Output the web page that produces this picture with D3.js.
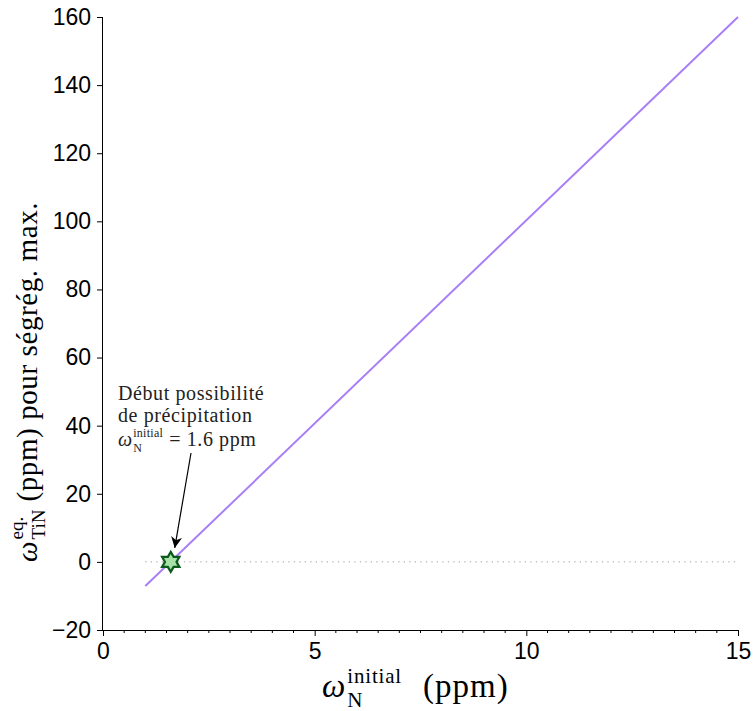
<!DOCTYPE html>
<html>
<head>
<meta charset="utf-8">
<script src="https://cdn.jsdelivr.net/npm/d3@7"></script>
<style>
  html, body { margin: 0; padding: 0; background: #fff; }
  svg { display: block; }
</style>
</head>
<body>
<svg id="chart" width="754" height="711"></svg>
<script>
// ---- data ----
const xTicks = [0, 5, 10, 15];
const xMinorTicks = d3.range(0, 15.001, 0.5);
const yTicks = [-20, 0, 20, 40, 60, 80, 100, 120, 140, 160];
const lineXs = [1, 15];          // ω_N initial (ppm)
const lineYs = [-7.1, 160];      // ω_TiN eq. (ppm)
const zeroXs = [1, 15];          // dotted reference at 0
const zeroYs = [0, 0];
const markerX = [1.6];
const markerY = [0];
const annotationLines = ["Début possibilité", "de précipitation"];
const annotationValue = "= 1.6 ppm";

const svg = d3.select("#chart");
const plot = {left: 103, right: 738, top: 17, bottom: 630};

const x = d3.scaleLinear().domain([0, 15]).range([plot.left, plot.right]);
const y = d3.scaleLinear().domain([-20, 160]).range([plot.bottom, plot.top]);

const sans = "'Liberation Sans', Arial, sans-serif";
const serif = "'Liberation Serif', 'Times New Roman', serif";

// ---- axes ----
const xAxis = d3.axisBottom(x).tickValues(xTicks).tickSize(6).tickPadding(7).tickFormat(d3.format("d"));
const gx = svg.append("g").attr("transform", `translate(0,${plot.bottom})`).call(xAxis);
// minor ticks
svg.append("g").attr("transform", `translate(0,${plot.bottom})`)
  .selectAll("line").data(xMinorTicks.filter(v => !xTicks.includes(v))).join("line")
  .attr("x1", d => x(d)).attr("x2", d => x(d)).attr("y1", 0).attr("y2", 3)
  .attr("stroke", "#000").attr("stroke-width", 1);

const yAxis = d3.axisLeft(y).tickValues(yTicks).tickSize(6).tickPadding(6)
  .tickFormat(d => d < 0 ? "\u2212" + Math.abs(d) : d);
const gy = svg.append("g").attr("transform", `translate(${plot.left},0)`).call(yAxis);

[gx, gy].forEach(g => {
  g.select(".domain").attr("stroke", "#000").attr("stroke-width", 1);
  g.selectAll(".tick line").attr("stroke", "#000");
  g.selectAll(".tick text").attr("fill", "#000").attr("font-family", sans).attr("font-size", 23);
});
gx.select(".domain").attr("d", `M${plot.left},0.5H${plot.right}`);
gy.select(".domain").attr("d", `M-0.5,${plot.top}V${plot.bottom}`);

// ---- dotted zero line ----
svg.append("path")
  .datum(d3.zip(zeroXs, zeroYs))
  .attr("d", d3.line().x(d => x(d[0])).y(d => y(d[1])))
  .attr("stroke", "#9a9a9a").attr("stroke-width", 1).attr("stroke-dasharray", "1.2,4.3")
  .attr("fill", "none");

// ---- main line ----
svg.append("path")
  .datum(d3.zip(lineXs, lineYs))
  .attr("d", d3.line().x(d => x(d[0])).y(d => y(d[1])))
  .attr("stroke", "#a97ff6").attr("stroke-width", 2).attr("fill", "none");

// ---- hexagram marker ----
function hexagram(r) {
  const pts = [];
  for (let i = 0; i < 12; i++) {
    const a = -Math.PI / 2 + i * Math.PI / 6;
    const rr = i % 2 === 0 ? r : r * 0.577;
    pts.push([rr * Math.cos(a), rr * Math.sin(a)]);
  }
  return "M" + pts.map(p => p.join(",")).join("L") + "Z";
}
svg.append("g").selectAll("path").data(d3.zip(markerX, markerY)).join("path")
  .attr("transform", d => `translate(${x(d[0])},${y(d[1])})`)
  .attr("d", hexagram(10))
  .attr("fill", "#a8e2a8").attr("stroke", "#0c5a1c").attr("stroke-width", 2.2)
  .attr("stroke-linejoin", "miter");

// ---- annotation ----
const defs = svg.append("defs");
defs.append("marker").attr("id", "ah").attr("viewBox", "0 0 10 10")
  .attr("refX", 10).attr("refY", 5).attr("markerWidth", 11).attr("markerHeight", 11)
  .attr("markerUnits", "userSpaceOnUse").attr("orient", "auto")
  .append("path").attr("d", "M0,0L10,5L0,10L3,5Z").attr("fill", "#000");

const ann = {x: 118, y0: 400, dy: 22};
const annG = svg.append("g").attr("font-family", serif).attr("font-size", 20).attr("fill", "#222");
annotationLines.forEach((t, i) => {
  annG.append("text").attr("x", ann.x).attr("y", ann.y0 + i * ann.dy).attr("letter-spacing", 0.6).text(t);
});
{
  const by = ann.y0 + 2 * ann.dy + 2;
  const w = annG.append("text").attr("x", ann.x).attr("y", by).attr("font-style", "italic").text("ω");
  const wl = w.node().getComputedTextLength();
  const sx = ann.x + wl + 1;
  const sup = annG.append("text").attr("x", sx).attr("y", by - 9).attr("font-size", 12).attr("letter-spacing", 0.3).text("initial");
  annG.append("text").attr("x", sx).attr("y", by + 6).attr("font-size", 12).text("N");
  const supL = sup.node().getComputedTextLength();
  annG.append("text").attr("x", sx + supL + 6).attr("y", by).attr("letter-spacing", 0.6).text(annotationValue);
}
// arrow
svg.append("line")
  .attr("x1", 191).attr("y1", 453)
  .attr("x2", x(markerX[0]) + 4).attr("y2", y(markerY[0]) - 14)
  .attr("stroke", "#000").attr("stroke-width", 1.2).attr("marker-end", "url(#ah)");

// ---- x axis title ----
{
  const g = svg.append("g").attr("font-family", serif).attr("fill", "#000");
  const bx = 322, by = 697;
  const w = g.append("text").attr("x", bx).attr("y", by).attr("font-size", 33).attr("font-style", "italic").text("ω");
  const sx = bx + w.node().getComputedTextLength() + 2;
  g.append("text").attr("x", sx).attr("y", by - 14).attr("font-size", 21).attr("letter-spacing", 0.8).text("initial");
  g.append("text").attr("x", sx).attr("y", by + 10).attr("font-size", 21).text("N");
  g.append("text").attr("x", 423).attr("y", by).attr("font-size", 33).attr("letter-spacing", 1).text("(ppm)");
}

// ---- y axis title (rotated) ----
{
  const g = svg.append("g").attr("font-family", serif).attr("fill", "#000")
    .attr("transform", "translate(37,562) rotate(-90)");
  const w = g.append("text").attr("x", 0).attr("y", 0).attr("font-size", 29).attr("font-style", "italic").text("ω");
  const sx = w.node().getComputedTextLength() + 2;
  const sup = g.append("text").attr("x", sx).attr("y", -14).attr("font-size", 19).text("eq.");
  const sub = g.append("text").attr("x", sx).attr("y", 8).attr("font-size", 19).text("TiN");
  const l = Math.max(sup.node().getComputedTextLength(), sub.node().getComputedTextLength());
  g.append("text").attr("x", sx + l + 8).attr("y", 0).attr("font-size", 29).attr("letter-spacing", 0.6)
    .text("(ppm) pour ségrég. max.");
}
</script>
</body>
</html>
